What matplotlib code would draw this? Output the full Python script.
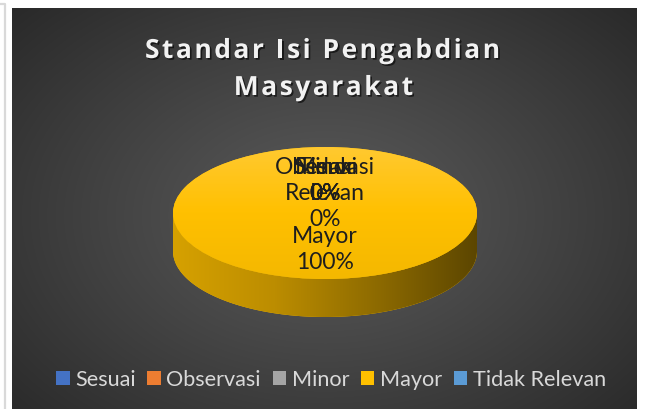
import textwrap
import numpy as np
import matplotlib
matplotlib.use('Agg')
import matplotlib.pyplot as plt
import matplotlib.patheffects as pe
from matplotlib.colors import LinearSegmentedColormap
from matplotlib.patches import Polygon

# data
labels = ['Sesuai', 'Observasi', 'Minor', 'Mayor', 'Tidak Relevan']
values = [0, 0, 0, 100, 0]
colors = ['#4472C4', '#ED7D31', '#A5A5A5', '#FFC000', '#5B9BD5']
title_lines = ['Standar Isi Pengabdian', 'Masyarakat']

W, H = 645, 409
fig = plt.figure(figsize=(6.45, 4.09), dpi=100)
fig.patch.set_facecolor('white')

# full figure axes in pixel units (y down)
bg = fig.add_axes([0, 0, 1, 1])
bg.set_xlim(0, W)
bg.set_ylim(H, 0)
bg.axis('off')

# thin grey frame on the left
bg.plot([0, 5, 5], [4, 4, H], color='#d9d9d9', lw=1.6, solid_capstyle='butt')

# dark radial gradient panel
px0, px1, py0, py1 = 12, 637, 8, 409
yy, xx = np.mgrid[py0:py1, px0:px1]
d = np.hypot((xx - 325) / 330.0, (yy - 215) / 230.0) / np.sqrt(2)
d = np.clip(d, 0, 1) ** 1.1
c_in, c_out = np.array([0x5a, 0x5a, 0x5a]) / 255, np.array([0x25, 0x25, 0x25]) / 255
img = c_in[None, None, :] * (1 - d[..., None]) + c_out[None, None, :] * d[..., None]
bg.imshow(img, extent=[px0, px1, py1, py0], interpolation='bilinear', zorder=0)
bg.set_xlim(0, W)
bg.set_ylim(H, 0)

# title with letter spacing and soft shadow
renderer = fig.canvas.get_renderer()
tkw = dict(fontsize=19, fontweight='bold', family='Open Sans', color='#F2F2F2')
shadow = [pe.SimplePatchShadow(offset=(1.2, -1.2), shadow_rgbFace='black', alpha=0.6), pe.Normal()]


def char_widths(s):
    t = bg.text(0, 0, '||', **tkw)
    bar = t.get_window_extent(renderer).width
    t.remove()
    out = []
    for ch in s:
        t = bg.text(0, 0, '|' + ch + '|', **tkw)
        out.append(t.get_window_extent(renderer).width - bar)
        t.remove()
    return out


w1 = char_widths(title_lines[0])
spacing = (355 - sum(w1)) / (len(title_lines[0]) - 1)
for line, yb, xc in zip(title_lines, [58, 95], [322.5, 323.5]):
    ws = char_widths(line)
    total = sum(ws) + spacing * (len(line) - 1)
    x = xc - total / 2
    for ch, w in zip(line, ws):
        if ch != ' ':
            bg.text(x, yb, ch, ha='left', va='baseline', path_effects=shadow, zorder=5, **tkw)
        x += w + spacing

# pie (top face is an ellipse: the axes box is stretched)
depth = 0.576
ax = fig.add_axes([173 / W, 1 - 317 / H, 304 / W, 170 / H])
wedges, _ = ax.pie(values, colors=colors, startangle=90, counterclock=False,
                   radius=1, wedgeprops=dict(linewidth=0))
ax.set_aspect('auto')
ax.axis('off')

side_cmap = LinearSegmentedColormap.from_list('side', ['#D6A100', '#BC8D00', '#8E6B00', '#5C4600'])
top_cmap = LinearSegmentedColormap.from_list('top', ['#F4B800', '#FFC000', '#FFC930'])

for w, v in zip(wedges, values):
    if v <= 0:
        continue
    t = np.radians(np.linspace(w.theta1, w.theta2, 400))
    t = t[np.sin(t) <= 0]
    if len(t) < 2:
        continue
    top = np.column_stack([np.cos(t), np.sin(t)])
    bot = np.column_stack([np.cos(t[::-1]), np.sin(t[::-1]) - depth])
    side = Polygon(np.vstack([top, bot]), closed=True, facecolor=w.get_facecolor(),
                   edgecolor='none', zorder=1)
    ax.add_patch(side)
    grad = np.linspace(0, 1, 256)[None, :]
    im = ax.imshow(grad, cmap=side_cmap, extent=[-1, 1, -1 - depth, 0], aspect='auto',
                   zorder=1.5, interpolation='bilinear')
    im.set_clip_path(side)
    w.set_zorder(2)
    vgrad = np.linspace(0, 1, 256)[:, None]
    im2 = ax.imshow(vgrad, cmap=top_cmap, extent=[-1, 1, -1, 1], aspect='auto',
                    origin='lower', zorder=2.5, interpolation='bilinear')
    im2.set_clip_path(w)

ax.set_xlim(-1, 1)
ax.set_ylim(-1 - depth, 1)

# data labels (top of block anchored, so wrapped labels grow downward)
total = sum(values)
fs = 16.5
for w, lab, v in zip(wedges, labels, values):
    mid = np.radians((w.theta1 + w.theta2) / 2)
    txt = textwrap.fill(lab, 9) + '\n{:.0f}%'.format(100 * v / total)
    ax.annotate(txt, xy=(0.52 * np.cos(mid), 0.52 * np.sin(mid)),
                xytext=(0, 15.5), textcoords='offset points',
                ha='center', va='top', fontsize=fs, family='Lato',
                color='#1E1E1E', linespacing=1.3, zorder=6)

# legend
leg = bg.legend(wedges, labels, loc='center', bbox_to_anchor=(331 / W, 1 - 380 / H),
                bbox_transform=fig.transFigure, ncol=5, frameon=False,
                prop={'family': 'Lato', 'size': 15.6},
                handlelength=0.62, handleheight=0.62, handletextpad=0.25,
                columnspacing=0.55, labelcolor='#D9D9D9')

fig.savefig('out.png', dpi=100, facecolor=fig.get_facecolor())
